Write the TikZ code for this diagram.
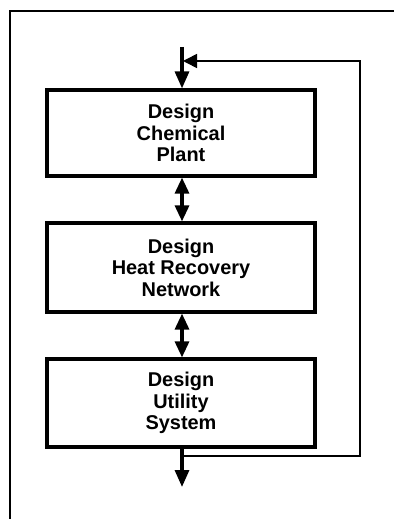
\documentclass[tikz,border=0pt]{standalone}
\usepackage{fontspec}
\setmainfont{Liberation Sans}
\usetikzlibrary{arrows.meta}
\begin{document}
\begin{tikzpicture}[x=1bp,y=-1bp,
  stagebox/.style={draw,line width=3.2bp,minimum width=268bp,inner sep=0pt,
    align=center,font=\fontsize{20}{21.5}\selectfont\bfseries},
  flow/.style={line width=3.2bp,-{Triangle[length=17bp,width=14bp]}},
  twoway/.style={line width=3.2bp,{Triangle[length=16bp,width=14bp]}-{Triangle[length=16bp,width=14bp]}},
  loopline/.style={line width=1.6bp}]
\useasboundingbox (0,0) rectangle (393,519);
\draw[line width=2.4bp] (10,525) -- (10,11) -- (400,11);
\node[stagebox,minimum height=86bp] (plant) at (181,133) {Design\\Chemical\\Plant};
\node[stagebox,minimum height=89bp] (hrn) at (181,267.5) {Design\\Heat Recovery\\Network};
\node[stagebox,minimum height=88bp] (util) at (181,403) {Design\\Utility\\System};
\coordinate (in) at (182,47);
\coordinate (out) at (182,487);
\coordinate (fb1) at (182,456);
\coordinate (fb2) at (360,456);
\coordinate (fb3) at (360,61);
\coordinate (fbtip) at (183,61);
\draw[flow] (in) -- (plant.north -| in);
\draw[twoway] (plant.south -| in) -- (hrn.north -| in);
\draw[twoway] (hrn.south -| in) -- (util.north -| in);
\draw[flow] (util.south -| in) -- (out);
\draw[loopline,-{Triangle[length=14bp,width=14bp]}] (fb1) -- (fb2) -- (fb3) -- (fbtip);
\end{tikzpicture}
\end{document}
